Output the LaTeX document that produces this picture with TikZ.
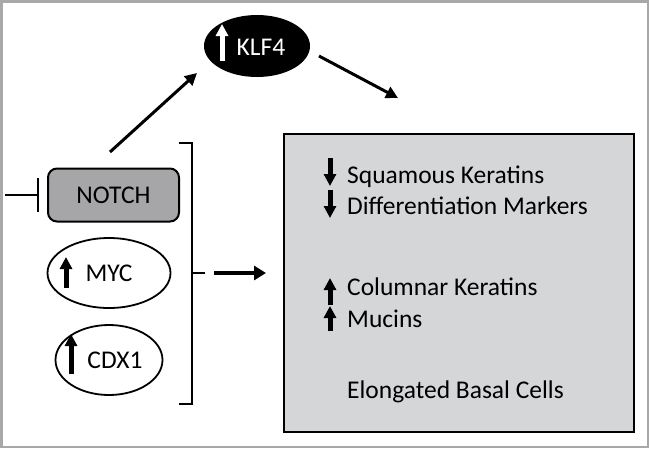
\documentclass[tikz,border=0pt]{standalone}
\usepackage{fontspec}
\setmainfont{Carlito}
\usetikzlibrary{arrows.meta,shapes.geometric}
\definecolor{framegray}{HTML}{A8A8A8}
\definecolor{notchgray}{HTML}{A6A6A8}
\definecolor{boxgray}{HTML}{D5D6D8}
\tikzset{
  lbl/.style={font=\fontsize{25.5}{30}\selectfont, inner sep=0pt},
  shapeline/.style={draw=black, line width=2pt},
  glyph/.style={line width=5pt, -{Triangle[length=12pt,width=12pt]}},
  conn/.style={line width=3pt, -{Triangle[length=12pt,width=12pt]}},
}
\begin{document}
\begin{tikzpicture}[x=1pt,y=-1pt]
\useasboundingbox (0,0) rectangle (649,448);
\draw[framegray, line width=2.5pt] (1.25,1.25) rectangle (647.75,446.75);

% KLF4
\node[ellipse, fill=black, minimum width=106pt, minimum height=62pt, inner sep=0pt] (klf4) at (257,46) {};
\node[lbl, text=white, anchor=base] (klf4t) at (261,55) {KLF4};
\draw[glyph, white] (222,61) -- (222,24);

% NOTCH
\node[shapeline, fill=notchgray, rounded corners=9pt, minimum width=131pt, minimum height=53pt, inner sep=0pt, lbl] (notch) at (113.5,195) {NOTCH};
\coordinate (inh) at (5,195);
\draw[line width=2pt, -{Bar[width=34pt,line width=2.5pt]}] (inh) -- ([xshift=-8pt]notch.west);

% MYC
\node[ellipse, shapeline, line width=1.8pt, minimum width=123pt, minimum height=70pt, inner sep=0pt, lbl] (myc) at (109,273) {MYC};
\draw[glyph] (66,288) -- (66,257);

% CDX1
\node[ellipse, shapeline, line width=1.8pt, minimum width=107pt, minimum height=70pt, inner sep=0pt, lbl] (cdx1) at (109,360) {\hspace{12pt}CDX1};
\draw[glyph] (71,374) -- (71,334);

% bracket
\coordinate (bt) at (179,143);
\coordinate (bb) at (179,404);
\coordinate (bm) at (192,273);
\coordinate (btick) at (205,273);
\draw[line width=2.5pt] (bt) -- (192,143) -- (192,404) -- (bb);
\draw[line width=2.5pt] (bm) -- (btick);
\coordinate (astart) at (214,273);
\coordinate (aend) at (266,273);
\draw[line width=4.5pt, -{Triangle[length=12pt,width=14pt]}] (astart) -- (aend);

% arrows to/from KLF4
\coordinate (n1) at (110,152);
\coordinate (k2) at (398,98);
\draw[conn] (n1) -- (197,73);
\draw[conn] (319,56) -- (k2);

% result box
\node[shapeline, fill=boxgray, minimum width=350pt, minimum height=298pt, inner sep=0pt, anchor=north west] (box) at (283,133) {};
\node[lbl, anchor=base west] (t1) at (347,183) {Squamous Keratins};
\node[lbl, anchor=base west] (t2) at (347,214) {Differentiation Markers};
\node[lbl, anchor=base west] (t3) at (347,295) {Columnar Keratins};
\node[lbl, anchor=base west] (t4) at (347,327) {Mucins};
\node[lbl, anchor=base west] (t5) at (347,398) {Elongated Basal Cells};
\draw[glyph] (330,158) -- (330,186);
\draw[glyph] (330,190) -- (330,218);
\draw[glyph] (330,305) -- (330,278);
\draw[glyph] (330,331) -- (330,306);
\end{tikzpicture}
\end{document}
